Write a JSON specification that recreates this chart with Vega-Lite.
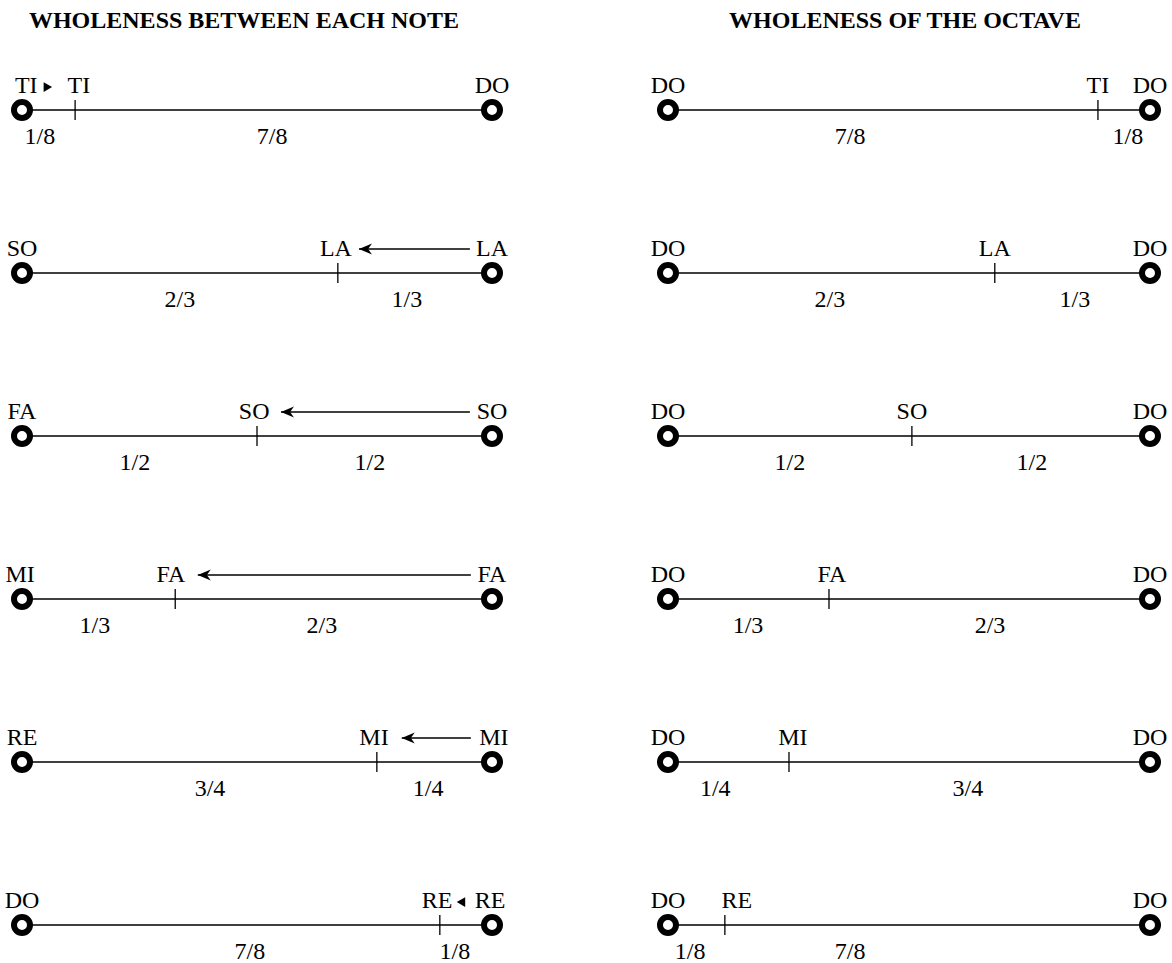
{
  "$schema": "https://vega.github.io/schema/vega-lite/v6.json",
  "padding": {"top": 9, "left": 0, "right": 0, "bottom": 0},
  "background": "white",
  "bounds": "flush",
  "spacing": 150,
  "config": {"view": {"stroke": null}},
  "datasets": {
    "left": [
      {"kind": "line", "row": 1, "pos": 0, "pos2": 1},
      {"kind": "line", "row": 2, "pos": 0, "pos2": 1},
      {"kind": "line", "row": 3, "pos": 0, "pos2": 1},
      {"kind": "line", "row": 4, "pos": 0, "pos2": 1},
      {"kind": "line", "row": 5, "pos": 0, "pos2": 1},
      {"kind": "line", "row": 6, "pos": 0, "pos2": 1},
      {"kind": "end", "row": 1, "pos": 0}, {"kind": "end", "row": 1, "pos": 1},
      {"kind": "end", "row": 2, "pos": 0}, {"kind": "end", "row": 2, "pos": 1},
      {"kind": "end", "row": 3, "pos": 0}, {"kind": "end", "row": 3, "pos": 1},
      {"kind": "end", "row": 4, "pos": 0}, {"kind": "end", "row": 4, "pos": 1},
      {"kind": "end", "row": 5, "pos": 0}, {"kind": "end", "row": 5, "pos": 1},
      {"kind": "end", "row": 6, "pos": 0}, {"kind": "end", "row": 6, "pos": 1},
      {"kind": "tick", "row": 1, "pos": 0.113},
      {"kind": "tick", "row": 2, "pos": 0.672},
      {"kind": "tick", "row": 3, "pos": 0.5},
      {"kind": "tick", "row": 4, "pos": 0.326},
      {"kind": "tick", "row": 5, "pos": 0.755},
      {"kind": "tick", "row": 6, "pos": 0.889},
      {"kind": "note", "row": 1, "pos": 0.009, "label": "TI"},
      {"kind": "note", "row": 1, "pos": 0.121, "label": "TI"},
      {"kind": "note", "row": 1, "pos": 1.0, "label": "DO"},
      {"kind": "note", "row": 2, "pos": 0.0, "label": "SO"},
      {"kind": "note", "row": 2, "pos": 0.668, "label": "LA"},
      {"kind": "note", "row": 2, "pos": 1.0, "label": "LA"},
      {"kind": "note", "row": 3, "pos": 0.0, "label": "FA"},
      {"kind": "note", "row": 3, "pos": 0.494, "label": "SO"},
      {"kind": "note", "row": 3, "pos": 1.0, "label": "SO"},
      {"kind": "note", "row": 4, "pos": -0.004, "label": "MI"},
      {"kind": "note", "row": 4, "pos": 0.317, "label": "FA"},
      {"kind": "note", "row": 4, "pos": 1.0, "label": "FA"},
      {"kind": "note", "row": 5, "pos": 0.0, "label": "RE"},
      {"kind": "note", "row": 5, "pos": 0.749, "label": "MI"},
      {"kind": "note", "row": 5, "pos": 1.004, "label": "MI"},
      {"kind": "note", "row": 6, "pos": 0.0, "label": "DO"},
      {"kind": "note", "row": 6, "pos": 0.883, "label": "RE"},
      {"kind": "note", "row": 6, "pos": 0.996, "label": "RE"},
      {"kind": "frac", "row": 1, "pos": 0.038, "label": "1/8"},
      {"kind": "frac", "row": 1, "pos": 0.532, "label": "7/8"},
      {"kind": "frac", "row": 2, "pos": 0.336, "label": "2/3"},
      {"kind": "frac", "row": 2, "pos": 0.819, "label": "1/3"},
      {"kind": "frac", "row": 3, "pos": 0.24, "label": "1/2"},
      {"kind": "frac", "row": 3, "pos": 0.74, "label": "1/2"},
      {"kind": "frac", "row": 4, "pos": 0.155, "label": "1/3"},
      {"kind": "frac", "row": 4, "pos": 0.638, "label": "2/3"},
      {"kind": "frac", "row": 5, "pos": 0.4, "label": "3/4"},
      {"kind": "frac", "row": 5, "pos": 0.864, "label": "1/4"},
      {"kind": "frac", "row": 6, "pos": 0.485, "label": "7/8"},
      {"kind": "frac", "row": 6, "pos": 0.921, "label": "1/8"},
      {"kind": "arrow", "row": 2, "pos": 0.717, "pos2": 0.953},
      {"kind": "arrow", "row": 3, "pos": 0.551, "pos2": 0.953},
      {"kind": "arrow", "row": 4, "pos": 0.374, "pos2": 0.955},
      {"kind": "arrow", "row": 5, "pos": 0.808, "pos2": 0.955},
      {"kind": "head", "row": 1, "pos": 0.055, "dir": "right"},
      {"kind": "head", "row": 6, "pos": 0.934, "dir": "left"}
    ],
    "right": [
      {"kind": "line", "row": 1, "pos": 0, "pos2": 1},
      {"kind": "line", "row": 2, "pos": 0, "pos2": 1},
      {"kind": "line", "row": 3, "pos": 0, "pos2": 1},
      {"kind": "line", "row": 4, "pos": 0, "pos2": 1},
      {"kind": "line", "row": 5, "pos": 0, "pos2": 1},
      {"kind": "line", "row": 6, "pos": 0, "pos2": 1},
      {"kind": "end", "row": 1, "pos": 0}, {"kind": "end", "row": 1, "pos": 1},
      {"kind": "end", "row": 2, "pos": 0}, {"kind": "end", "row": 2, "pos": 1},
      {"kind": "end", "row": 3, "pos": 0}, {"kind": "end", "row": 3, "pos": 1},
      {"kind": "end", "row": 4, "pos": 0}, {"kind": "end", "row": 4, "pos": 1},
      {"kind": "end", "row": 5, "pos": 0}, {"kind": "end", "row": 5, "pos": 1},
      {"kind": "end", "row": 6, "pos": 0}, {"kind": "end", "row": 6, "pos": 1},
      {"kind": "tick", "row": 1, "pos": 0.892},
      {"kind": "tick", "row": 2, "pos": 0.678},
      {"kind": "tick", "row": 3, "pos": 0.506},
      {"kind": "tick", "row": 4, "pos": 0.334},
      {"kind": "tick", "row": 5, "pos": 0.251},
      {"kind": "tick", "row": 6, "pos": 0.118},
      {"kind": "note", "row": 1, "pos": 0.0, "label": "DO"},
      {"kind": "note", "row": 1, "pos": 0.892, "label": "TI"},
      {"kind": "note", "row": 1, "pos": 1.0, "label": "DO"},
      {"kind": "note", "row": 2, "pos": 0.0, "label": "DO"},
      {"kind": "note", "row": 2, "pos": 0.678, "label": "LA"},
      {"kind": "note", "row": 2, "pos": 1.0, "label": "DO"},
      {"kind": "note", "row": 3, "pos": 0.0, "label": "DO"},
      {"kind": "note", "row": 3, "pos": 0.506, "label": "SO"},
      {"kind": "note", "row": 3, "pos": 1.0, "label": "DO"},
      {"kind": "note", "row": 4, "pos": 0.0, "label": "DO"},
      {"kind": "note", "row": 4, "pos": 0.34, "label": "FA"},
      {"kind": "note", "row": 4, "pos": 1.0, "label": "DO"},
      {"kind": "note", "row": 5, "pos": 0.0, "label": "DO"},
      {"kind": "note", "row": 5, "pos": 0.259, "label": "MI"},
      {"kind": "note", "row": 5, "pos": 1.0, "label": "DO"},
      {"kind": "note", "row": 6, "pos": 0.0, "label": "DO"},
      {"kind": "note", "row": 6, "pos": 0.143, "label": "RE"},
      {"kind": "note", "row": 6, "pos": 1.0, "label": "DO"},
      {"kind": "frac", "row": 1, "pos": 0.378, "label": "7/8"},
      {"kind": "frac", "row": 1, "pos": 0.954, "label": "1/8"},
      {"kind": "frac", "row": 2, "pos": 0.336, "label": "2/3"},
      {"kind": "frac", "row": 2, "pos": 0.844, "label": "1/3"},
      {"kind": "frac", "row": 3, "pos": 0.253, "label": "1/2"},
      {"kind": "frac", "row": 3, "pos": 0.755, "label": "1/2"},
      {"kind": "frac", "row": 4, "pos": 0.166, "label": "1/3"},
      {"kind": "frac", "row": 4, "pos": 0.668, "label": "2/3"},
      {"kind": "frac", "row": 5, "pos": 0.098, "label": "1/4"},
      {"kind": "frac", "row": 5, "pos": 0.622, "label": "3/4"},
      {"kind": "frac", "row": 6, "pos": 0.046, "label": "1/8"},
      {"kind": "frac", "row": 6, "pos": 0.378, "label": "7/8"}
    ]
  },
  "hconcat": [
    {
      "width": 488,
      "height": 927,
      "title": {"text": "WHOLENESS BETWEEN EACH NOTE", "font": "Liberation Serif", "fontSize": 24, "fontWeight": "bold", "color": "black", "anchor": "middle", "frame": "group", "offset": 4},
      "data": {"name": "left"},
      "encoding": {
        "x": {"field": "pos", "type": "quantitative", "axis": null, "scale": {"domain": [-0.04681, 0.99149], "nice": false, "zero": false}},
        "y": {"field": "row", "type": "quantitative", "axis": null, "scale": {"domain": [0.5521, 6.2392], "reverse": true, "nice": false, "zero": false}}
      },
      "layer": [
        {"transform": [{"filter": "datum.kind === 'line'"}], "mark": {"type": "rule", "color": "black", "strokeWidth": 1.5}, "encoding": {"x2": {"field": "pos2"}}},
        {"transform": [{"filter": "datum.kind === 'tick'"}], "mark": {"type": "point", "shape": "M0,-1L0,1", "size": 400, "filled": false, "color": "black", "strokeWidth": 1.3, "opacity": 1}},
        {"transform": [{"filter": "datum.kind === 'end'"}], "mark": {"type": "point", "shape": "circle", "size": 256, "filled": true, "fill": "white", "stroke": "black", "strokeWidth": 6, "opacity": 1}},
        {"transform": [{"filter": "datum.kind === 'arrow'"}], "mark": {"type": "rule", "color": "black", "strokeWidth": 1.5, "yOffset": -24, "y2Offset": -24}, "encoding": {"x2": {"field": "pos2"}}},
        {"transform": [{"filter": "datum.kind === 'arrow'"}], "mark": {"type": "point", "shape": "M0,0L2,-0.85L1.4,0L2,0.85Z", "size": 169, "filled": true, "color": "black", "opacity": 1, "yOffset": -24}},
        {"transform": [{"filter": "datum.kind === 'head'"}], "mark": {"type": "point", "size": 95, "filled": true, "color": "black", "opacity": 1, "yOffset": -23}, "encoding": {"shape": {"field": "dir", "type": "nominal", "legend": null, "scale": {"domain": ["left", "right"], "range": ["triangle-left", "triangle-right"]}}}},
        {"transform": [{"filter": "datum.kind === 'note'"}], "mark": {"type": "text", "font": "Liberation Serif", "fontSize": 24, "color": "black", "align": "center", "baseline": "alphabetic", "dy": -17}, "encoding": {"text": {"field": "label"}}},
        {"transform": [{"filter": "datum.kind === 'frac'"}], "mark": {"type": "text", "font": "Liberation Serif", "fontSize": 24, "color": "black", "align": "center", "baseline": "alphabetic", "dy": 34}, "encoding": {"text": {"field": "label"}}}
      ]
    },
    {
      "width": 534,
      "height": 927,
      "title": {"text": "WHOLENESS OF THE OCTAVE", "font": "Liberation Serif", "fontSize": 24, "fontWeight": "bold", "color": "black", "anchor": "middle", "frame": "group", "offset": 4},
      "data": {"name": "right"},
      "encoding": {
        "x": {"field": "pos", "type": "quantitative", "axis": null, "scale": {"domain": [-0.06224, 1.04564], "nice": false, "zero": false}},
        "y": {"field": "row", "type": "quantitative", "axis": null, "scale": {"domain": [0.5521, 6.2392], "reverse": true, "nice": false, "zero": false}}
      },
      "layer": [
        {"transform": [{"filter": "datum.kind === 'line'"}], "mark": {"type": "rule", "color": "black", "strokeWidth": 1.5}, "encoding": {"x2": {"field": "pos2"}}},
        {"transform": [{"filter": "datum.kind === 'tick'"}], "mark": {"type": "point", "shape": "M0,-1L0,1", "size": 400, "filled": false, "color": "black", "strokeWidth": 1.3, "opacity": 1}},
        {"transform": [{"filter": "datum.kind === 'end'"}], "mark": {"type": "point", "shape": "circle", "size": 256, "filled": true, "fill": "white", "stroke": "black", "strokeWidth": 6, "opacity": 1}},
        {"transform": [{"filter": "datum.kind === 'note'"}], "mark": {"type": "text", "font": "Liberation Serif", "fontSize": 24, "color": "black", "align": "center", "baseline": "alphabetic", "dy": -17}, "encoding": {"text": {"field": "label"}}},
        {"transform": [{"filter": "datum.kind === 'frac'"}], "mark": {"type": "text", "font": "Liberation Serif", "fontSize": 24, "color": "black", "align": "center", "baseline": "alphabetic", "dy": 34}, "encoding": {"text": {"field": "label"}}}
      ]
    }
  ]
}
